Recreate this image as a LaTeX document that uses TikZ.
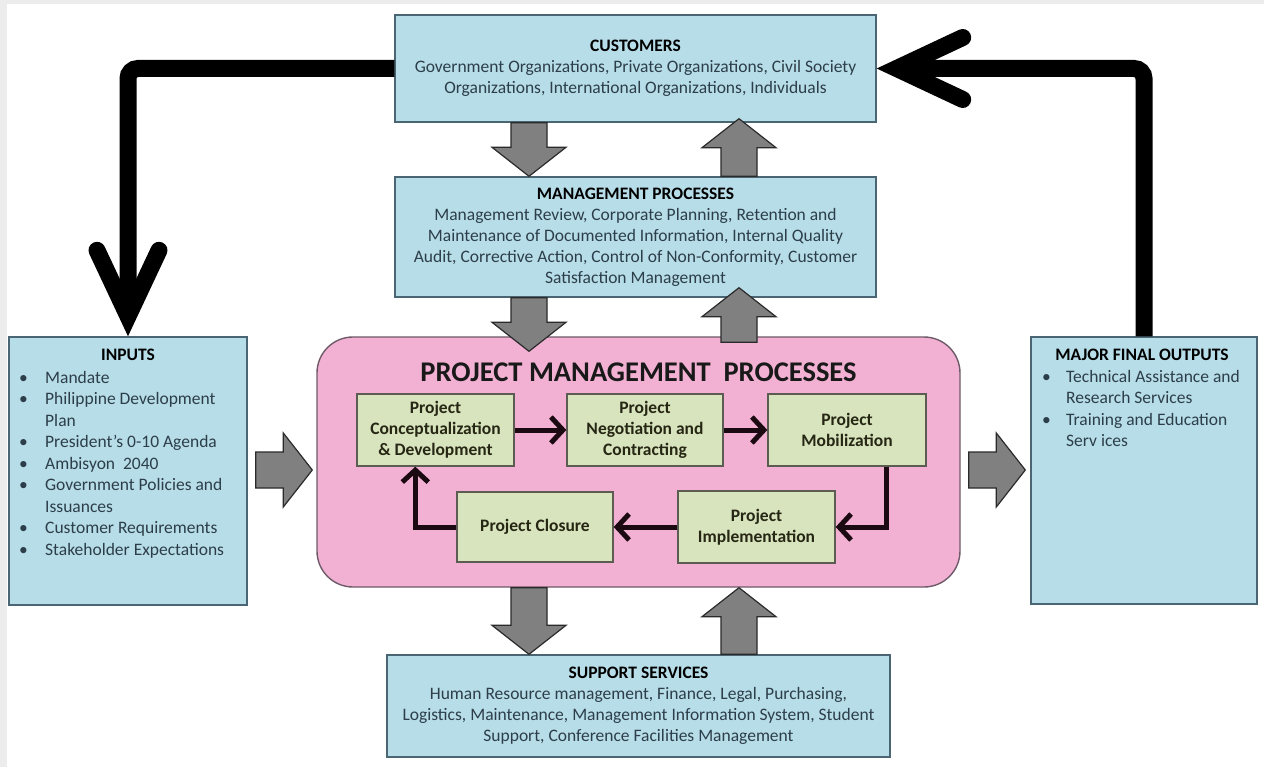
\documentclass[tikz,border=0pt]{standalone}
\usepackage{fontspec}
\setmainfont{Carlito}
\usetikzlibrary{calc,arrows.meta}

\definecolor{boxblue}{HTML}{B7DDE8}
\definecolor{blueedge}{HTML}{4A6672}
\definecolor{boxpink}{HTML}{F2B1D3}
\definecolor{pinkedge}{HTML}{6E5A68}
\definecolor{boxgreen}{HTML}{D8E4BD}
\definecolor{greenedge}{HTML}{5C5C52}
\definecolor{bodytext}{HTML}{2C3E49}
\definecolor{greentext}{HTML}{262614}
\definecolor{arrowgray}{HTML}{808080}
\definecolor{arrowedge}{HTML}{2A2A2A}
\definecolor{arrowdark}{HTML}{1C0A12}
\definecolor{framegray}{HTML}{ECECEC}

\newcommand\dfbody{\fontsize{17.5}{21}\selectfont}
\newcommand\dflist{\fontsize{17.5}{21.5}\selectfont}
\newcommand\dftitle{\fontsize{28.5}{32}\selectfont\bfseries}

% gray block arrow from #1 to #2 (shaft half width 18, head half width 37, head length 29)
\newcommand\blockarrow[2]{%
  \coordinate (ba-s) at (#1);
  \coordinate (ba-e) at (#2);
  \coordinate (ba-h) at ($(ba-e)!29pt!(ba-s)$);
  \draw[blockarr]
    ($(ba-s)!18pt!90:(ba-e)$) -- ($(ba-h)!18pt!-90:(ba-s)$) --
    ($(ba-h)!37pt!-90:(ba-s)$) -- (ba-e) --
    ($(ba-h)!37pt!90:(ba-s)$) -- ($(ba-h)!18pt!90:(ba-s)$) --
    ($(ba-s)!18pt!-90:(ba-e)$) -- cycle;}

\begin{document}
\begin{tikzpicture}[x=1pt,y=-1pt,
  bluebox/.style={draw=blueedge, line width=1.4pt, fill=boxblue, inner sep=0pt,
    text=bodytext, align=center, font=\dfbody},
  greenbox/.style={draw=greenedge, line width=1.4pt, fill=boxgreen, inner sep=0pt,
    text=greentext, align=center, font=\dfbody\bfseries,
    minimum width=157pt, minimum height=72pt},
  listtext/.style={inner sep=0pt, anchor=north west, align=left, text=bodytext, font=\dflist},
  blockarr/.style={draw=arrowedge, line width=1.2pt, fill=arrowgray, line join=miter},
  fb/.style={draw=black, line width=17pt, rounded corners=10pt},
  fbarm/.style={draw=black, line width=17pt, line cap=round, line join=miter},
  inarr/.style={draw=arrowdark, line width=5pt, -{Straight Barb[length=12pt,width=26pt]}},
  boxtitle/.style={text=black, font=\dfbody\bfseries, inner sep=0pt}]

\useasboundingbox (0,0) rectangle (1264,767);
\fill[white] (0,0) rectangle (1264,767);
\fill[framegray] (0,0) rectangle (1264,4);
\fill[framegray] (0,0) rectangle (7,767);

% positions of the vertical block-arrow columns and the horizontal arrow row
\coordinate (colA) at (529,0);
\coordinate (colB) at (739,0);
\coordinate (rowH) at (0,470);

% outer boxes
\node[bluebox, minimum width=481pt, minimum height=107pt] (cust) at (635.5,68.5)
  {{\color{black}\bfseries CUSTOMERS}\\
   Government Organizations, Private Organizations, Civil Society\\
   Organizations, International Organizations, Individuals};

\node[bluebox, minimum width=481pt, minimum height=120pt] (mgmt) at (635.5,237)
  {{\color{black}\bfseries MANAGEMENT PROCESSES}\\
   Management Review, Corporate Planning, Retention and\\
   Maintenance of Documented Information, Internal Quality\\
   Audit, Corrective Action, Control of Non-Conformity, Customer\\
   Satisfaction Management};

\node[bluebox, minimum width=503pt, minimum height=102pt] (supp) at (638.5,706)
  {{\color{black}\bfseries SUPPORT SERVICES}\\
   Human Resource management, Finance, Legal, Purchasing,\\
   Logistics, Maintenance, Management Information System, Student\\
   Support, Conference Facilities Management};

\node[bluebox, minimum width=238pt, minimum height=268pt] (inputs) at (128,471) {};
\node[bluebox, minimum width=226pt, minimum height=267pt] (outputs) at (1144,470.5) {};

% inputs and outputs contents
\node[boxtitle] (intitle) at (128,355) {INPUTS};
\node[listtext] (inlist) at (19,368)
  {\strut\makebox[26pt][l]{\textbullet}Mandate\\
   \makebox[26pt][l]{\textbullet}Philippine Development\\
   \hspace*{26pt}Plan\\
   \makebox[26pt][l]{\textbullet}President’s 0-10 Agenda\\
   \makebox[26pt][l]{\textbullet}Ambisyon~ 2040\\
   \makebox[26pt][l]{\textbullet}Government Policies and\\
   \hspace*{26pt}Issuances\\
   \makebox[26pt][l]{\textbullet}Customer Requirements\\
   \makebox[26pt][l]{\textbullet}Stakeholder Expectations};

\node[boxtitle] (outtitle) at (1142,355) {MAJOR FINAL OUTPUTS};
\node[listtext] (outlist) at (1042,367)
  {\strut\makebox[24pt][l]{\textbullet}Technical Assistance and\\
   \hspace*{24pt}Research Services\\
   \makebox[24pt][l]{\textbullet}Training and Education\\
   \hspace*{24pt}Serv ices};

% feedback loops from the outputs back to the customers and on to the inputs
\coordinate (tipL) at ($(inputs.north)+(0,-20)$);
\coordinate (tipR) at ($(cust.east)+(20,0)$);
\draw[fb] (cust.west) -| (tipL);
\draw[fbarm] ($(tipL)+(-31,-66)$) -- (tipL) -- ($(tipL)+(31,-66)$);
\draw[fb] (outputs.north) |- (tipR);
\draw[fbarm] ($(tipR)+(66,-31)$) -- (tipR) -- ($(tipR)+(66,31)$);

% central process area
\node[draw=pinkedge, line width=1.4pt, fill=boxpink, rounded corners=36pt,
      minimum width=643pt, minimum height=250pt, inner sep=0pt] (pink) at (638.5,462) {};
\node[text=black!90, font=\dftitle, inner sep=0pt] (pinktitle) at (638.5,372)
  {PROJECT MANAGEMENT~ PROCESSES};

\node[greenbox] (conc) at (435.5,430) {Project\\Conceptualization\\\&~Development};
\node[greenbox, minimum width=156pt] (nego) at (645,430) {Project\\Negotiation and\\Contracting};
\node[greenbox, minimum width=158pt] (mob) at (847,430) {Project\\Mobilization};
\node[greenbox, minimum width=156pt, minimum height=70pt] (clos) at (535,527) {Project Closure};
\node[greenbox] (impl) at (756.5,527) {Project\\Implementation};

\draw[inarr] (conc.east) -- (nego.west);
\draw[inarr] (nego.east) -- (mob.west);
\draw[inarr] ($(mob.south east)+(-40,0)$) |- (impl.east);
\draw[inarr] (impl.west) -- (clos.east);
\draw[inarr] (clos.west) -| ($(conc.south west)+(59,0)$);

% gray block arrows between the boxes
\blockarrow{cust.south -| colA}{mgmt.north -| colA}
\blockarrow{mgmt.north -| colB}{$(cust.south -| colB)+(0,-4)$}
\blockarrow{mgmt.south -| colA}{$(pink.north -| colA)+(0,15)$}
\blockarrow{$(pink.north -| colB)+(0,6)$}{$(mgmt.south -| colB)+(0,-10)$}
\blockarrow{pink.south -| colA}{supp.north -| colA}
\blockarrow{supp.north -| colB}{pink.south -| colB}
\blockarrow{$(inputs.east |- rowH)+(8,0)$}{$(pink.west |- rowH)+(-4,0)$}
\blockarrow{$(pink.east |- rowH)+(8,0)$}{$(outputs.west |- rowH)+(-5,0)$}

\end{tikzpicture}
\end{document}
